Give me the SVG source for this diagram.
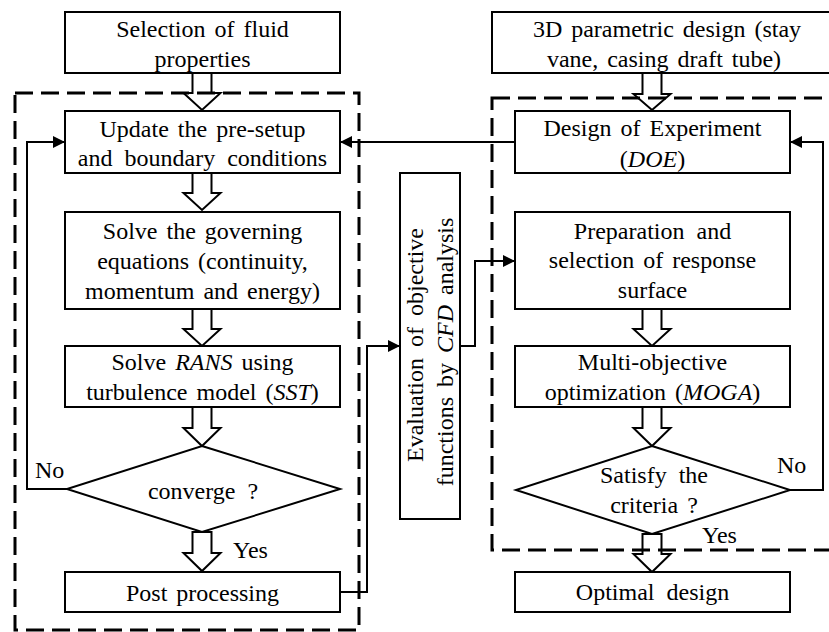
<svg xmlns="http://www.w3.org/2000/svg" width="829" height="632" viewBox="0 0 829 632">
<style>
.box{fill:#fff;stroke:#000;stroke-width:2}
.txt{font-family:'Liberation Serif',serif;font-size:24px;fill:#000}
.t{text-anchor:middle}
.it{font-style:italic}
.ha{fill:#fff;stroke:#000;stroke-width:2;stroke-linejoin:miter}
.con{fill:none;stroke:#000;stroke-width:2}
.dash{fill:none;stroke:#000;stroke-width:3;stroke-dasharray:18 8}
</style>
<defs>
<marker id="ah" markerUnits="userSpaceOnUse" markerWidth="12" markerHeight="12" viewBox="0 0 12 12" refX="11" refY="6" orient="auto">
<path d="M0,0 L12,6 L0,12 Z" fill="#000"/>
</marker>
</defs>
<rect width="829" height="632" fill="#fff"/>

<g id="connectors">
<polyline class="con" points="67,489 27,489 27,142 64,142" marker-end="url(#ah)"/>
<polyline class="con" points="515,142 341,142" marker-end="url(#ah)"/>
<polyline class="con" points="340,592 367,592 367,346 399,346" marker-end="url(#ah)"/>
<polyline class="con" points="460,346 475,346 475,261 514,261" marker-end="url(#ah)"/>
<polyline class="con" points="790,490 823,490 823,142 791,142" marker-end="url(#ah)"/>
<polygon class="ha" points="192.5,73 211.5,73 211.5,93 220.5,93 202,110 183.5,93 192.5,93"/>
<polygon class="ha" points="192.5,173 211.5,173 211.5,193 220.5,193 202,210 183.5,193 192.5,193"/>
<polygon class="ha" points="192.5,309 211.5,309 211.5,329 220.5,329 202,346 183.5,329 192.5,329"/>
<polygon class="ha" points="192.5,407 211.5,407 211.5,428 220.5,428 202,446 183.5,428 192.5,428"/>
<polygon class="ha" points="192.5,532 211.5,532 211.5,553 220.5,553 202,571 183.5,553 192.5,553"/>
<polygon class="ha" points="642.5,73 661.5,73 661.5,94 670.5,94 652,110 633.5,94 642.5,94"/>
<polygon class="ha" points="642.5,309 661.5,309 661.5,329 670.5,329 652,346 633.5,329 642.5,329"/>
<polygon class="ha" points="642.5,407 661.5,407 661.5,428 670.5,428 652,446 633.5,428 642.5,428"/>
<polygon class="ha" points="642.5,534 661.5,534 661.5,554 670.5,554 652,572 633.5,554 642.5,554"/>
</g>

<g id="nodes" class="txt">
<g id="n-fluid">
<rect class="box" x="65" y="12" width="275" height="61"/>
<text class="txt t" x="202.5" y="37" word-spacing="3">Selection of fluid</text>
<text class="txt t" x="202.5" y="67">properties</text>
</g>
<g id="n-update">
<rect class="box" x="65" y="111" width="275" height="62"/>
<text class="txt t" x="202.5" y="137" word-spacing="3">Update the pre-setup</text>
<text class="txt t" x="202.5" y="166" word-spacing="6">and boundary conditions</text>
</g>
<g id="n-solve">
<rect class="box" x="65" y="212" width="275" height="97"/>
<text class="txt t" x="202.5" y="239" word-spacing="3">Solve the governing</text>
<text class="txt t" x="202.5" y="269" word-spacing="3">equations (continuity,</text>
<text class="txt t" x="202.5" y="299" word-spacing="3">momentum and energy)</text>
</g>
<g id="n-rans">
<rect class="box" x="65" y="346" width="275" height="61"/>
<text class="txt t" x="202.5" y="370" word-spacing="3">Solve <tspan class="it">RANS</tspan> using</text>
<text class="txt t" x="202.5" y="400" word-spacing="3">turbulence model (<tspan class="it">SST</tspan>)</text>
</g>
<g id="n-converge">
<polygon class="box" points="202,446 340,489 202,532 67,489"/>
<text class="txt t" x="203" y="499" word-spacing="6">converge ?</text>
<text class="txt" x="35" y="478">No</text>
<text class="txt" x="233" y="558">Yes</text>
</g>
<g id="n-post">
<rect class="box" x="65" y="572" width="275" height="40"/>
<text class="txt t" x="202.5" y="601" word-spacing="3">Post processing</text>
</g>

<g id="n-eval">
<rect class="box" x="400" y="173" width="60" height="346"/>
<text class="txt t" transform="translate(423,345) rotate(-90)" word-spacing="5">Evaluation of objective</text>
<text class="txt t" transform="translate(453,352) rotate(-90)" word-spacing="4">functions by <tspan class="it">CFD</tspan> analysis</text>
</g>

<g id="n-3d">
<rect class="box" x="492" y="12" width="355" height="61"/>
<text class="txt t" x="667" y="37" word-spacing="3">3D parametric design (stay</text>
<text class="txt t" x="664" y="67" word-spacing="3">vane, casing draft tube)</text>
</g>
<g id="n-doe">
<rect class="box" x="515" y="111" width="275" height="62"/>
<text class="txt t" x="652.5" y="136" word-spacing="3">Design of Experiment</text>
<text class="txt t" x="652.5" y="167">(<tspan class="it">DOE</tspan>)</text>
</g>
<g id="n-prep">
<rect class="box" x="515" y="212" width="275" height="97"/>
<text class="txt t" x="652.5" y="239" word-spacing="6">Preparation and</text>
<text class="txt t" x="652.5" y="268" word-spacing="3">selection of response</text>
<text class="txt t" x="652.5" y="298">surface</text>
</g>
<g id="n-moga">
<rect class="box" x="515" y="346" width="275" height="61"/>
<text class="txt t" x="652.5" y="370">Multi-objective</text>
<text class="txt t" x="652.5" y="400" word-spacing="3">optimization (<tspan class="it">MOGA</tspan>)</text>
</g>
<g id="n-criteria">
<polygon class="box" points="652,446 790,490 652,534 516,490"/>
<text class="txt t" x="654" y="483" word-spacing="6">Satisfy the</text>
<text class="txt t" x="654" y="513" word-spacing="3">criteria ?</text>
<text class="txt" x="777" y="473">No</text>
<text class="txt" x="702" y="543">Yes</text>
</g>
<g id="n-optimal">
<rect class="box" x="515" y="572" width="275" height="40"/>
<text class="txt t" x="652.5" y="600" word-spacing="6">Optimal design</text>
</g>
</g>

<g id="groups">
<rect class="dash" x="15" y="93" width="344" height="537"/>
<rect class="dash" x="492" y="98" width="360" height="452"/>
</g>
</svg>
